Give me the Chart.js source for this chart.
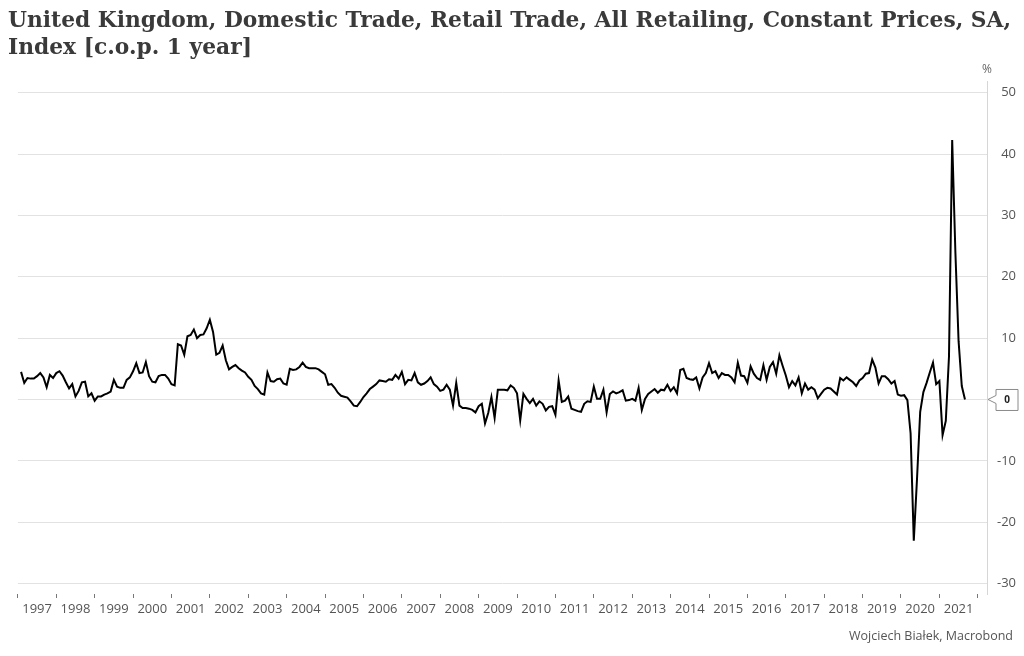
<!DOCTYPE html>
<html>
<head>
<meta charset="utf-8">
<script src="https://cdn.jsdelivr.net/npm/chart.js@4.4.1/dist/chart.umd.min.js"></script>
<style>
  html, body { margin: 0; padding: 0; background: #fff; }
  #wrap { position: relative; width: 1024px; height: 656px; }
</style>
</head>
<body>
<div id="wrap"><canvas id="chart" width="1024" height="656"></canvas></div>
<script>
// monthly y/y change, Jan 1997 .. Aug 2021
const startYear = 1997;
const values = [
  4.5, 2.7, 3.5, 3.4, 3.4, 3.8, 4.3, 3.6, 2.0, 4.0, 3.5, 4.3,
  4.6, 3.9, 2.8, 1.8, 2.5, 0.5, 1.4, 2.8, 2.9, 0.5, 1.0, -0.2,
  0.5, 0.5, 0.8, 1.0, 1.3, 3.2, 2.1, 1.9, 1.9, 3.2, 3.6, 4.6,
  5.9, 4.3, 4.4, 6.1, 3.8, 2.9, 2.8, 3.8, 4.0, 4.0, 3.4, 2.5,
  2.3, 9.0, 8.8, 7.3, 10.3, 10.5, 11.4, 10.0, 10.5, 10.6, 11.6, 13.0,
  11.0, 7.3, 7.6, 8.8, 6.4, 4.9, 5.3, 5.6, 5.1, 4.7, 4.4, 3.7,
  3.2, 2.2, 1.7, 1.0, 0.8, 4.4, 3.0, 2.9, 3.3, 3.4, 2.6, 2.4,
  5.0, 4.8, 4.9, 5.3, 6.0, 5.3, 5.1, 5.1, 5.1, 4.9, 4.5, 4.1,
  2.4, 2.5, 1.9, 1.1, 0.6, 0.45, 0.3, -0.3, -1.0, -1.1, -0.4, 0.4,
  1.0, 1.7, 2.1, 2.5, 3.1, 3.0, 2.9, 3.3, 3.2, 4.0, 3.4, 4.5,
  2.5, 3.2, 3.1, 4.3, 2.8, 2.4, 2.6, 3.0, 3.6, 2.5, 2.1, 1.4,
  1.6, 2.4, 1.6, -1.0, 2.7, -1.0, -1.4, -1.4, -1.5, -1.7, -2.1, -1.1,
  -0.7, -3.9, -2.2, 0.4, -3.0, 1.6, 1.6, 1.6, 1.5, 2.3, 1.9, 1.0,
  -3.4, 0.9, 0.1, -0.6, 0.1, -1.0, -0.3, -0.7, -1.8, -1.2, -1.1, -2.5,
  3.1, -0.4, -0.2, 0.5, -1.5, -1.7, -1.9, -2.0, -0.7, -0.3, -0.4, 2.1,
  0.1, 0.1, 1.6, -2.1, 0.9, 1.3, 1.0, 1.2, 1.5, -0.2, -0.1, 0.1,
  -0.2, 1.9, -1.7, 0.1, 0.9, 1.3, 1.7, 1.1, 1.6, 1.5, 2.4, 1.4,
  2.0, 1.0, 4.8, 5.0, 3.5, 3.3, 3.2, 3.6, 1.8, 3.6, 4.3, 5.9,
  4.3, 4.6, 3.5, 4.3, 4.0, 4.0, 3.6, 2.8, 6.0, 3.9, 3.8, 2.7,
  5.4, 4.2, 3.5, 3.2, 5.6, 3.2, 5.3, 6.1, 4.2, 7.2, 5.5, 3.9,
  2.0, 3.0, 2.3, 3.6, 1.0, 2.6, 1.6, 2.0, 1.6, 0.2, 0.9, 1.6,
  1.9, 1.8, 1.3, 0.8, 3.5, 3.1, 3.6, 3.2, 2.8, 2.2, 3.1, 3.5,
  4.2, 4.3, 6.5, 5.2, 2.6, 3.8, 3.8, 3.3, 2.6, 3.0, 0.8, 0.6,
  0.7, -0.1, -5.5, -23.0, -13.0, -2.0, 1.2, 2.7, 4.4, 6.0, 2.5, 3.0,
  -5.8, -3.5, 7.0, 42.3, 24.0, 9.5, 2.2, 0.0
];
const tickYears = [1997, 1998, 1999, 2000, 2001, 2002, 2003, 2004, 2005, 2006, 2007, 2008, 2009,
  2010, 2011, 2012, 2013, 2014, 2015, 2016, 2017, 2018, 2019, 2020, 2021, 2022];
const yTicks = [-30, -20, -10, 0, 10, 20, 30, 40, 50];

const titleLines = [
  'United Kingdom, Domestic Trade, Retail Trade, All Retailing, Constant Prices, SA,',
  'Index [c.o.p. 1 year]'
];
const sourceText = 'Wojciech Białek, Macrobond';

// month i is plotted at the end of that month
const points = values.map((v, i) => ({ x: startYear + (i + 1) / 12, y: v }));

const extras = {
  id: 'extras',
  afterDraw(chart) {
    const ctx = chart.ctx;
    const yScale = chart.scales.y;
    ctx.save();

    // title, fitted to the width of the first line
    let size = 22;
    ctx.font = `bold ${size}px "DejaVu Serif"`;
    const w = ctx.measureText(titleLines[0]).width;
    size = size * 1004 / w;
    ctx.font = `bold ${size}px "DejaVu Serif"`;
    ctx.fillStyle = '#3a3a3a';
    ctx.textAlign = 'left';
    ctx.textBaseline = 'alphabetic';
    ctx.fillText(titleLines[0], 8, 27);
    ctx.fillText(titleLines[1], 8, 54);

    // unit
    ctx.font = '12px "Open Sans"';
    ctx.fillStyle = '#666';
    ctx.textAlign = 'center';
    ctx.textBaseline = 'middle';
    ctx.fillText('%', chart.chartArea.right, 70);

    // source
    ctx.font = '12.5px "Open Sans"';
    ctx.fillStyle = '#555';
    ctx.textAlign = 'right';
    ctx.fillText(sourceText, 1013, 636);

    // last value callout
    const last = values[values.length - 1];
    const yy = yScale.getPixelForValue(last);
    const x0 = chart.chartArea.right + 1;
    ctx.beginPath();
    ctx.moveTo(x0, yy);
    ctx.lineTo(x0 + 8, yy - 4);
    ctx.lineTo(x0 + 8, yy - 10);
    ctx.lineTo(x0 + 30, yy - 10);
    ctx.lineTo(x0 + 30, yy + 11);
    ctx.lineTo(x0 + 8, yy + 11);
    ctx.lineTo(x0 + 8, yy + 4);
    ctx.closePath();
    ctx.fillStyle = '#fff';
    ctx.fill();
    ctx.strokeStyle = '#8a8a8a';
    ctx.lineWidth = 1;
    ctx.stroke();
    ctx.font = 'bold 10px "Open Sans"';
    ctx.fillStyle = '#222';
    ctx.textAlign = 'center';
    ctx.fillText(Math.round(last).toString(), x0 + 19, yy + 1);

    ctx.restore();
  }
};

new Chart(document.getElementById('chart'), {
  type: 'line',
  data: {
    datasets: [{
      data: points,
      borderColor: '#000',
      borderWidth: 2,
      pointRadius: 0,
      tension: 0,
      fill: false
    }]
  },
  options: {
    responsive: false,
    animation: false,
    events: [],
    layout: { padding: { left: 17, top: 81, right: 8, bottom: 0 } },
    plugins: { legend: { display: false }, tooltip: { enabled: false } },
    scales: {
      x: {
        type: 'linear',
        min: 1997,
        max: 2022.24,
        afterBuildTicks: scale => { scale.ticks = tickYears.map(v => ({ value: v })); },
        afterFit: scale => { scale.height = 62; },
        ticks: {
          autoSkip: false,
          maxRotation: 0,
          labelOffset: 19.2,
          padding: 3,
          color: '#555',
          font: { family: 'Open Sans', size: 13 },
          callback: v => (v < 2022 ? String(v) : '')
        },
        grid: { drawOnChartArea: false, drawTicks: true, tickLength: 4, color: '#777' },
        border: { display: false }
      },
      y: {
        position: 'right',
        min: -31.7,
        max: 51.9,
        afterBuildTicks: scale => { scale.ticks = yTicks.map(v => ({ value: v })); },
        afterFit: scale => { scale.width = 29; },
        ticks: {
          crossAlign: 'far',
          padding: 6,
          color: '#555',
          font: { family: 'Open Sans', size: 13 },
          callback: v => (v === 0 ? '' : String(v))
        },
        grid: { color: '#e2e2e2', tickLength: 0 },
        border: { color: '#d6d6d6' }
      }
    }
  },
  plugins: [extras]
});
</script>
</body>
</html>
